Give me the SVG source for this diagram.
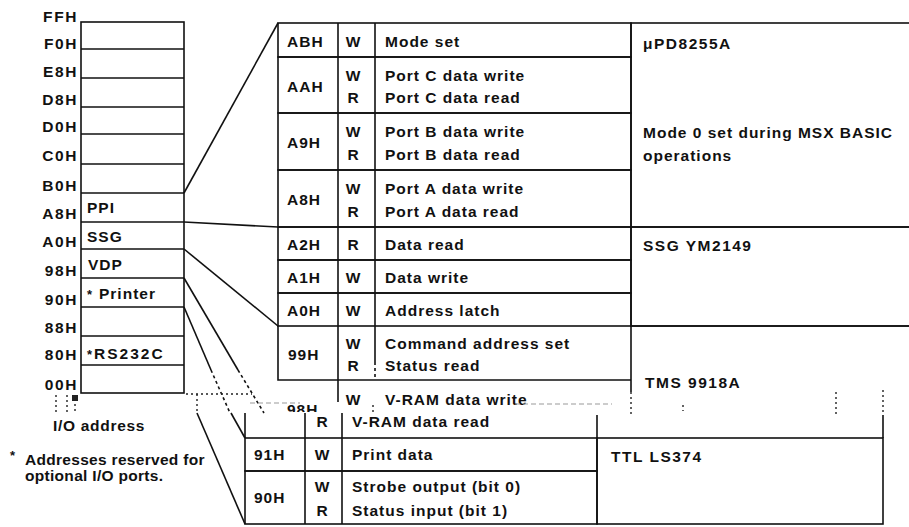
<svg xmlns="http://www.w3.org/2000/svg" width="909" height="527" viewBox="0 0 909 527">
<defs>
<style>
text { font-family: "Liberation Sans", Arial, Helvetica, sans-serif; font-weight: bold; font-size: 15.5px; fill: #111; }
.lab { letter-spacing: 1.6px; text-anchor: end; }
.c { letter-spacing: 1px; }
.m { text-anchor: middle; }
.chip { letter-spacing: 1.5px; }
.ast { font-size: 13px; }
.ln { stroke: #111; stroke-width: 1.6; fill: none; }
.d { stroke-dasharray: 3 3; }
.g { stroke: #999; stroke-width: 1.2; stroke-dasharray: 5 3; fill: none; }
.k { stroke: #222; stroke-width: 1.4; stroke-dasharray: 2 3; fill: none; }
</style>
<clipPath id="seam"><rect x="0" y="0" width="909" height="412"/></clipPath>
</defs>
<rect x="0" y="0" width="909" height="527" fill="#ffffff"/>

<!-- I/O address map -->
<g id="io-map">
  <g class="ln">
    <rect x="81" y="22" width="103" height="371"/>
    <line x1="81" y1="49" x2="184" y2="49"/>
    <line x1="81" y1="78" x2="184" y2="78"/>
    <line x1="81" y1="107" x2="184" y2="107"/>
    <line x1="81" y1="134" x2="184" y2="134"/>
    <line x1="81" y1="164" x2="184" y2="164"/>
    <line x1="81" y1="193" x2="184" y2="193"/>
    <line x1="81" y1="222" x2="184" y2="222"/>
    <line x1="81" y1="249" x2="184" y2="249"/>
    <line x1="81" y1="278" x2="184" y2="278"/>
    <line x1="81" y1="307" x2="184" y2="307"/>
    <line x1="81" y1="336" x2="184" y2="336"/>
    <line x1="81" y1="365" x2="184" y2="365"/>
  </g>
  <g id="addr-labels">
    <text class="lab" x="78" y="22">FFH</text>
    <text class="lab" x="78" y="49">F0H</text>
    <text class="lab" x="78" y="77">E8H</text>
    <text class="lab" x="78" y="105">D8H</text>
    <text class="lab" x="78" y="132">D0H</text>
    <text class="lab" x="78" y="161">C0H</text>
    <text class="lab" x="78" y="191">B0H</text>
    <text class="lab" x="78" y="219">A8H</text>
    <text class="lab" x="78" y="247">A0H</text>
    <text class="lab" x="78" y="276">98H</text>
    <text class="lab" x="78" y="305">90H</text>
    <text class="lab" x="78" y="333">88H</text>
    <text class="lab" x="78" y="360">80H</text>
    <text class="lab" x="78" y="390">00H</text>
  </g>
  <g id="cell-ppi"><text class="c" x="87" y="213">PPI</text></g>
  <g id="cell-ssg"><text class="c" x="87" y="242">SSG</text></g>
  <g id="cell-vdp"><text class="c" x="88" y="270">VDP</text></g>
  <g id="cell-printer"><text class="c" x="87" y="299"><tspan class="ast">*</tspan><tspan x="99">Printer</tspan></text></g>
  <g id="cell-rs232c"><text x="87" y="359" style="letter-spacing:2px"><tspan class="ast">*</tspan><tspan x="94">RS232C</tspan></text></g>
</g>

<g id="notes">
  <text x="53" y="431" style="letter-spacing:0.7px">I/O address</text>
  <text x="10" y="460" class="ast">*</text>
  <text x="25" y="465" style="letter-spacing:0.3px">Addresses reserved for</text>
  <text x="25" y="481" style="letter-spacing:0.3px">optional I/O ports.</text>
</g>

<!-- Upper table (PPI / SSG / VDP) -->
<g id="row-ABH">
  <rect class="ln" x="278" y="23" width="353" height="34"/>
  <line class="ln" x1="338" y1="23" x2="338" y2="57"/><line class="ln" x1="375" y1="23" x2="375" y2="57"/>
  <text class="c" x="287" y="47">ABH</text><text class="m" x="353" y="47">W</text><text class="c" x="385" y="47">Mode set</text>
</g>
<g id="row-AAH">
  <rect class="ln" x="278" y="57" width="353" height="56"/>
  <line class="ln" x1="338" y1="57" x2="338" y2="113"/><line class="ln" x1="375" y1="57" x2="375" y2="113"/>
  <text class="c" x="287" y="92">AAH</text>
  <text class="m" x="353" y="81">W</text><text class="m" x="353" y="103">R</text>
  <text class="c" x="385" y="81">Port C data write</text><text class="c" x="385" y="103">Port C data read</text>
</g>
<g id="row-A9H">
  <rect class="ln" x="278" y="113" width="353" height="57"/>
  <line class="ln" x1="338" y1="113" x2="338" y2="170"/><line class="ln" x1="375" y1="113" x2="375" y2="170"/>
  <text class="c" x="287" y="148">A9H</text>
  <text class="m" x="353" y="137">W</text><text class="m" x="353" y="160">R</text>
  <text class="c" x="385" y="137">Port B data write</text><text class="c" x="385" y="160">Port B data read</text>
</g>
<g id="row-A8H">
  <rect class="ln" x="278" y="170" width="353" height="57"/>
  <line class="ln" x1="338" y1="170" x2="338" y2="227"/><line class="ln" x1="375" y1="170" x2="375" y2="227"/>
  <text class="c" x="287" y="205">A8H</text>
  <text class="m" x="353" y="194">W</text><text class="m" x="353" y="217">R</text>
  <text class="c" x="385" y="194">Port A data write</text><text class="c" x="385" y="217">Port A data read</text>
</g>
<g id="row-A2H">
  <rect class="ln" x="278" y="227" width="353" height="33"/>
  <line class="ln" x1="338" y1="227" x2="338" y2="260"/><line class="ln" x1="375" y1="227" x2="375" y2="260"/>
  <text class="c" x="287" y="250">A2H</text><text class="m" x="353" y="250">R</text><text class="c" x="385" y="250">Data read</text>
</g>
<g id="row-A1H">
  <rect class="ln" x="278" y="260" width="353" height="33"/>
  <line class="ln" x1="338" y1="260" x2="338" y2="293"/><line class="ln" x1="375" y1="260" x2="375" y2="293"/>
  <text class="c" x="287" y="283">A1H</text><text class="m" x="353" y="283">W</text><text class="c" x="385" y="283">Data write</text>
</g>
<g id="row-A0H">
  <rect class="ln" x="278" y="293" width="353" height="33"/>
  <line class="ln" x1="338" y1="293" x2="338" y2="326"/><line class="ln" x1="375" y1="293" x2="375" y2="326"/>
  <text class="c" x="287" y="316">A0H</text><text class="m" x="353" y="316">W</text><text class="c" x="385" y="316">Address latch</text>
</g>
<g id="row-99H">
  <path class="ln" d="M278 326 V380 H631"/>
  <line class="ln" x1="338" y1="326" x2="338" y2="402"/>
  <line class="ln" x1="375" y1="326" x2="375" y2="362"/>
  <line class="ln d" x1="375" y1="362" x2="375" y2="380"/>
  <text class="c" x="288" y="360">99H</text>
  <text class="m" x="353" y="349">W</text><text class="m" x="353" y="371">R</text>
  <text class="c" x="385" y="349">Command address set</text><text class="c" x="385" y="371">Status read</text>
</g>
<g id="row-98H">
  <text class="c" x="287" y="415" clip-path="url(#seam)">98H</text>
  <text class="m" x="353" y="405">W</text>
  <text class="c" x="385" y="405">V-RAM data write</text>
  <path class="ln" d="M245 413 V438 M305 413 V438 M342 413 V438"/>
  <text class="m" x="322" y="427">R</text>
  <text class="c" x="352" y="427">V-RAM data read</text>
</g>

<!-- chip column -->
<g id="chip-ppi">
  <rect class="ln" x="631" y="23" width="300" height="204"/>
  <text class="chip" x="643" y="49">μPD8255A</text>
  <text class="c" x="643" y="138">Mode 0 set during MSX BASIC</text>
  <text class="c" x="643" y="161">operations</text>
</g>
<g id="chip-ssg">
  <rect class="ln" x="631" y="227" width="300" height="99"/>
  <text class="chip" x="643" y="251">SSG YM2149</text>
</g>
<g id="chip-vdp">
  <path class="ln" d="M931 326 H631 V392"/>
  <line class="k" x1="631" y1="392" x2="631" y2="415"/>
  <path class="ln" d="M597 415 V438 M883 415 V438"/>
  <text class="chip" x="645" y="388">TMS 9918A</text>
</g>

<!-- Lower table (shifted part of the scan) -->
<g id="row-91H">
  <rect class="ln" x="245" y="438" width="352" height="33"/>
  <line class="ln" x1="305" y1="438" x2="305" y2="471"/><line class="ln" x1="342" y1="438" x2="342" y2="471"/>
  <text class="c" x="254" y="460">91H</text><text class="m" x="322" y="460">W</text><text class="c" x="352" y="460">Print data</text>
</g>
<g id="row-90H">
  <rect class="ln" x="245" y="471" width="352" height="53"/>
  <line class="ln" x1="305" y1="471" x2="305" y2="524"/><line class="ln" x1="342" y1="471" x2="342" y2="524"/>
  <text class="c" x="254" y="503">90H</text>
  <text class="m" x="322" y="492">W</text><text class="m" x="322" y="516">R</text>
  <text class="c" x="352" y="492">Strobe output (bit 0)</text><text class="c" x="352" y="516">Status input (bit 1)</text>
</g>
<g id="chip-ttl">
  <rect class="ln" x="597" y="438" width="286" height="86"/>
  <text class="chip" x="611" y="462">TTL LS374</text>
</g>

<!-- connectors -->
<g id="connectors" class="ln">
  <line x1="184" y1="193" x2="278" y2="23"/>
  <line x1="184" y1="222" x2="278" y2="227"/>
  <line x1="184" y1="249" x2="278" y2="326"/>
  <line x1="184" y1="278" x2="238" y2="370"/>
  <line class="d" x1="238" y1="370" x2="264" y2="413"/>
  <line x1="231" y1="413" x2="245" y2="438"/>
  <line x1="184" y1="307" x2="211" y2="370"/>
  <line class="d" x1="211" y1="370" x2="230" y2="413"/>
  <line x1="197" y1="413" x2="245" y2="524"/>
</g>

<!-- scan seam fragments -->
<g id="scan-seam">
  <line class="k" x1="186" y1="394" x2="252" y2="394"/>
  <line class="k" x1="197" y1="394" x2="197" y2="413"/>
  <line class="g" x1="250" y1="403" x2="300" y2="403"/>
  <line class="g" x1="515" y1="404" x2="612" y2="404"/>
  <line class="k" x1="836" y1="392" x2="836" y2="415"/>
  <line class="k" x1="883" y1="390" x2="883" y2="413"/>
  <line class="k" x1="683" y1="405" x2="683" y2="411"/>
  <line class="k" x1="373" y1="405" x2="373" y2="414"/>
  <line class="k" x1="56" y1="395" x2="56" y2="412"/>
  <line class="k" x1="67" y1="395" x2="67" y2="412"/>
  <rect x="72" y="395" width="6" height="6" fill="#222"/>
  <line class="k" x1="75" y1="404" x2="75" y2="412"/>
</g>
</svg>
